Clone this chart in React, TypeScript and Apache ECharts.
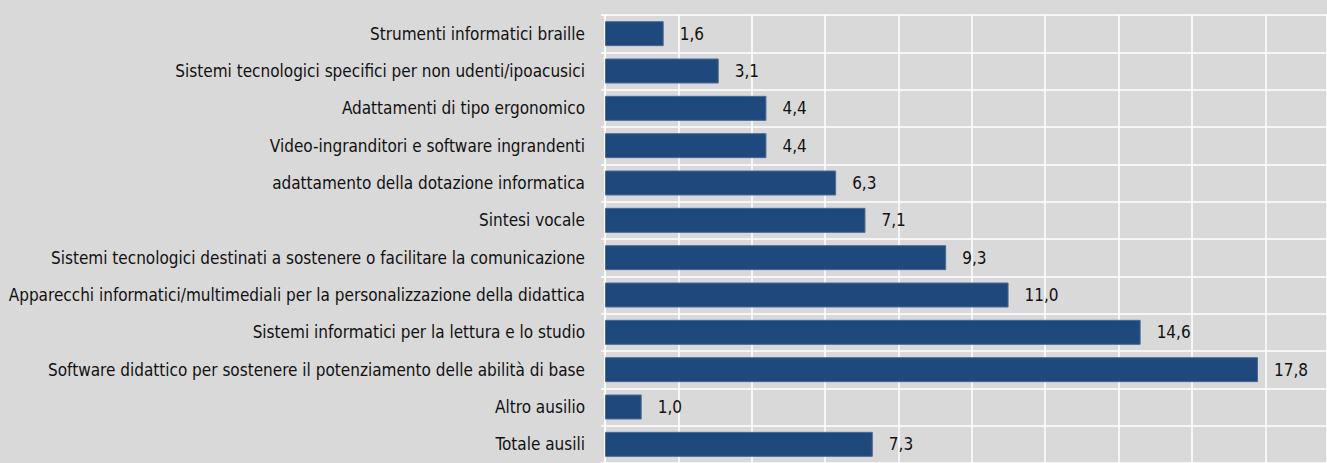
import React, { useEffect, useRef } from "react";
import * as echarts from "echarts";

const categories: string[] = [
  "Strumenti informatici braille",
  "Sistemi tecnologici specifici per non udenti/ipoacusici",
  "Adattamenti di tipo ergonomico",
  "Video-ingranditori e software ingrandenti",
  "adattamento della dotazione informatica",
  "Sintesi vocale",
  "Sistemi tecnologici destinati a sostenere o facilitare la comunicazione",
  "Apparecchi informatici/multimediali per la personalizzazione della didattica",
  "Sistemi informatici per la lettura e lo studio",
  "Software didattico per sostenere il potenziamento delle abilità di base",
  "Altro ausilio",
  "Totale ausili",
];

const values: number[] = [1.6, 3.1, 4.4, 4.4, 6.3, 7.1, 9.3, 11.0, 14.6, 17.8, 1.0, 7.3];

const FONT = "'Liberation Sans Narrow', 'Arial Narrow', 'DejaVu Sans Condensed', 'Liberation Sans', sans-serif";

export default function App() {
  const ref = useRef<HTMLDivElement>(null);
  useEffect(() => {
    document.body.style.margin = "0";
    const chart = echarts.init(ref.current!, null, { renderer: "svg" });
    chart.setOption({
      animation: false,
      backgroundColor: "#d9d9d9",
      grid: { left: 605, right: 0, top: 15, height: 454 },
      xAxis: {
        type: "value",
        min: 0,
        max: 19.68,
        interval: 2,
        axisLabel: { show: false },
        axisLine: { show: false },
        axisTick: { show: false },
        splitLine: { show: true, lineStyle: { color: "#ffffff", width: 1.5 } },
      },
      yAxis: {
        type: "category",
        data: categories,
        inverse: true,
        axisLine: { show: true, lineStyle: { color: "#ffffff", width: 1.5 } },
        axisTick: { show: true, length: 4, lineStyle: { color: "#ffffff", width: 1.5 } },
        splitLine: { show: true, lineStyle: { color: "#ffffff", width: 1.5 } },
        axisLabel: {
          color: "#111111",
          fontSize: 17,
          fontFamily: FONT,
          margin: 20,
        },
      },
      series: [
        {
          type: "bar",
          data: values,
          barWidth: 25,
          itemStyle: { color: "#1f497d", borderColor: "#4a6a98", borderWidth: 1 },
          label: {
            show: true,
            position: "right",
            distance: 16,
            color: "#111111",
            fontSize: 17,
            fontFamily: FONT,
            formatter: (p: any) => Number(p.value).toFixed(1).replace(".", ","),
          },
        },
      ],
    });
    return () => chart.dispose();
  }, []);
  return <div ref={ref} style={{ position: "fixed", left: 0, top: 0, width: 1327, height: 463 }} />;
}
